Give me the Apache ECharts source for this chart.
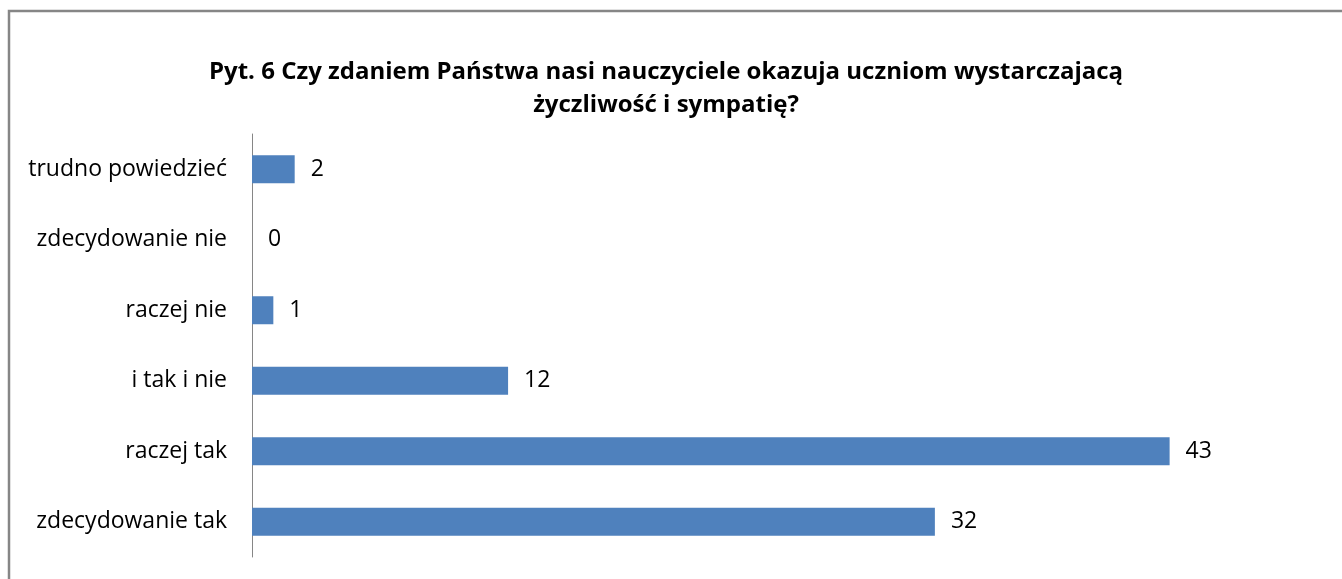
<!DOCTYPE html>
<html>
<head>
<meta charset="utf-8">
<script src="https://cdn.jsdelivr.net/npm/echarts@6/dist/echarts.min.js"></script>
<style>
  html, body { margin: 0; padding: 0; background: #fff; }
  #chart { width: 1342px; height: 579px; }
</style>
</head>
<body>
<div id="chart"></div>
<script>
// answers, bottom to top as drawn on the y axis
const categories = ['zdecydowanie tak', 'raczej tak', 'i tak i nie', 'raczej nie', 'zdecydowanie nie', 'trudno powiedzieć'];
const counts = [32, 43, 12, 1, 0, 2];
const titleText = 'Pyt. 6 Czy zdaniem Państwa nasi nauczyciele okazuja uczniom wystarczajacą\nżyczliwość i sympatię?';

const chart = echarts.init(document.getElementById('chart'));

const option = {
  backgroundColor: '#ffffff',
  animation: false,
  textStyle: { fontFamily: '"Open Sans", "Liberation Sans", sans-serif' },
  title: {
    text: titleText,
    left: 661,
    top: 51,
    textAlign: 'center',
    textStyle: {
      fontSize: 24,
      fontWeight: 'bold',
      color: '#000',
      lineHeight: 33,
      align: 'center'
    }
  },
  graphic: [{
    type: 'rect',
    shape: { x: 9, y: 11, width: 1345, height: 580 },
    style: { fill: 'none', stroke: '#868686', lineWidth: 2.5 },
    silent: true
  }],
  grid: { left: 252, top: 134, bottom: 22, right: 23 },
  xAxis: {
    type: 'value',
    min: 0,
    max: 50,
    show: false
  },
  yAxis: {
    type: 'category',
    data: categories,
    axisLine: { lineStyle: { color: '#868686', width: 1 } },
    axisTick: { show: false },
    axisLabel: { fontSize: 23, color: '#000', margin: 25 }
  },
  series: [{
    type: 'bar',
    data: counts,
    barWidth: 28,
    itemStyle: { color: '#4f81bd' },
    label: {
      show: true,
      position: 'right',
      distance: 16,
      fontSize: 23,
      color: '#000'
    }
  }]
};

chart.setOption(option);
</script>
</body>
</html>
